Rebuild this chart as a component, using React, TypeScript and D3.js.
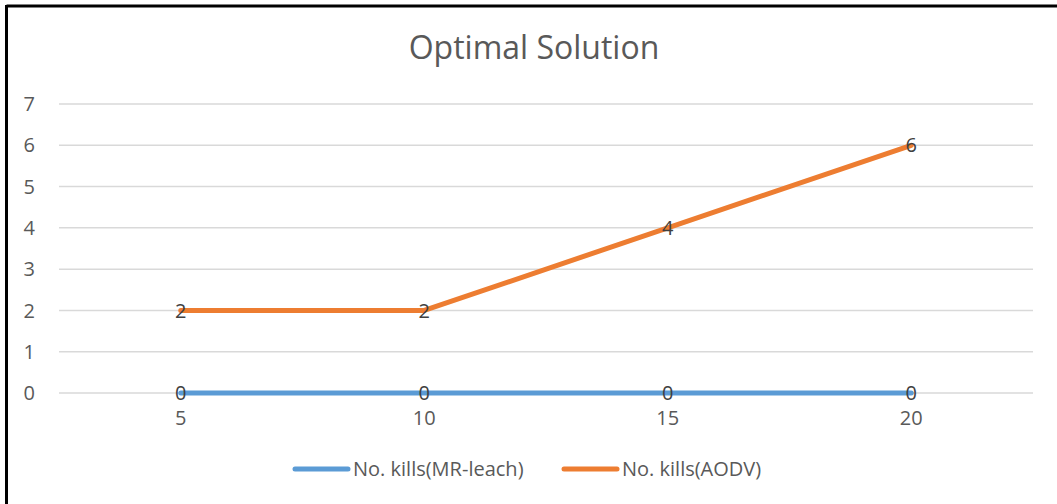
import React from "react";
import * as d3 from "d3";

const categories = ["5", "10", "15", "20"];
const mrLeach = [0, 0, 0, 0];
const aodv = [2, 2, 4, 6];
const yTicks = [0, 1, 2, 3, 4, 5, 6, 7];
const seriesNames = ["No. kills(MR-leach)", "No. kills(AODV)"];
const seriesColors = ["#5B9BD5", "#ED7D31"];

const W = 1057;
const H = 504;
const font = "'Open Sans', 'Liberation Sans', sans-serif";

export default function App() {
  const x = d3.scaleBand<string>().domain(categories).range([59, 1033]);
  const y = d3.scaleLinear().domain([0, 7]).range([393, 104]);
  const cx = (c: string) => (x(c) ?? 0) + x.bandwidth() / 2;
  const line = d3
    .line<number>()
    .x((_, i) => cx(categories[i]))
    .y((v) => y(v));
  const series = [mrLeach, aodv];
  const legendX = [295, 564];

  return (
    <svg
      width={W}
      height={H}
      style={{ position: "absolute", left: 0, top: 0, background: "#fff" }}
      fontFamily={font}
    >
      <rect x={0} y={0} width={W} height={H} fill="#fff" />
      {/* frame */}
      <line x1={6.5} y1={6} x2={W} y2={6} stroke="#000" strokeWidth={3} />
      <line x1={6.5} y1={5} x2={6.5} y2={H} stroke="#000" strokeWidth={3} />

      <text x={534} y={59} textAnchor="middle" fontSize={32} fill="#595959">
        Optimal Solution
      </text>

      {/* gridlines and y labels */}
      {yTicks.map((t) => (
        <g key={t}>
          <line x1={59} x2={1033} y1={y(t)} y2={y(t)} stroke="#D9D9D9" strokeWidth={1.5} />
          <text x={35} y={y(t)} dy="0.36em" textAnchor="end" fontSize={20} fill="#595959">
            {t}
          </text>
        </g>
      ))}

      {/* x labels */}
      {categories.map((c) => (
        <text key={c} x={cx(c)} y={425} textAnchor="middle" fontSize={20} fill="#595959">
          {c}
        </text>
      ))}

      {/* series lines */}
      {series.map((s, i) => (
        <path
          key={i}
          d={line(s) ?? ""}
          fill="none"
          stroke={seriesColors[i]}
          strokeWidth={5}
          strokeLinecap="round"
          strokeLinejoin="round"
        />
      ))}

      {/* data labels */}
      {series.map((s, i) =>
        s.map((v, j) => (
          <text
            key={`${i}-${j}`}
            x={cx(categories[j])}
            y={y(v)}
            dy="0.36em"
            textAnchor="middle"
            fontSize={20}
            fill="#404040"
          >
            {v}
          </text>
        ))
      )}

      {/* legend */}
      {seriesNames.map((n, i) => {
        const lx = legendX[i];
        return (
          <g key={n}>
            <line
              x1={lx}
              x2={lx + 53}
              y1={469}
              y2={469}
              stroke={seriesColors[i]}
              strokeWidth={5}
              strokeLinecap="round"
            />
            <text x={lx + 58} y={469} dy="0.36em" fontSize={20} fill="#595959">
              {n}
            </text>
          </g>
        );
      })}
    </svg>
  );
}
